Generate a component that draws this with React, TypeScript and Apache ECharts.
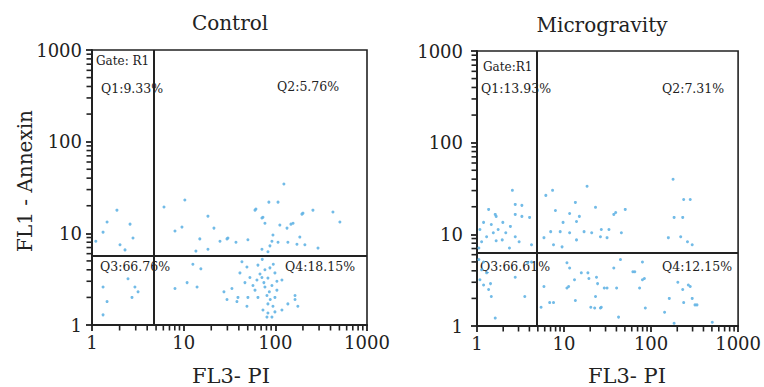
import React, { useEffect, useRef } from "react";
import * as echarts from "echarts";

const PANEL_TITLES = ["Control", "Microgravity"];
const X_NAME = "FL3- PI";
const Y_NAME = "FL1 - Annexin";
const MINOR_TICKS = [2, 3, 4, 5, 6, 7, 8, 9, 20, 30, 40, 50, 60, 70, 80, 90, 200, 300, 400, 500, 600, 700, 800, 900];
const GATE_LABELS = ["Gate: R1", "Gate:R1"];
const CONTROL_QUADS = ["Q1:9.33%", "Q2:5.76%", "Q3:66.76%", "Q4:18.15%"];
const MICRO_QUADS = ["Q1:13.93%", "Q2:7.31%", "Q3:66.61%", "Q4:12.15%"];
// gate positions [FL3 - PI, FL1 - Annexin]
const CONTROL_GATE = [4.75, 5.7];
const MICRO_GATE = [4.9, 6.3];

// [FL3 - PI, FL1 - Annexin]
const CONTROL_POINTS = [
  [1.87, 17.9], [1.46, 13.3], [2.6, 12.6], [2.8, 8.9], [1.32, 10.3], [1.1, 8.2], [2.02, 7.5], [2.29, 6.6],
  [2.47, 3.2], [1.32, 2.6], [2.94, 2.6], [3.18, 2.3], [1.46, 1.8], [2.73, 2.0], [1.32, 1.29],
  [6.1, 19.4], [10.3, 23.1], [8.04, 10.6], [9.58, 11.7], [18.4, 15.4], [21.4, 11.4], [15, 8.7], [24.9, 8.2],
  [29.7, 8.7], [37.2, 8.0], [50.2, 8.5], [18.4, 6.7], [13.6, 6.4], [61.4, 18.4], [73.3, 15], [85, 21.9],
  [107, 21.9], [60, 17.9], [200, 16.6], [257, 17.9], [425, 17.1], [506, 13.3], [71.4, 14.7], [77, 12.9],
  [112, 12.3], [134, 11.4], [156, 12.9], [124, 34.5], [30.4, 8.9], [94.2, 9.6], [91.8, 8.2], [107, 8.0],
  [137, 8.0], [172, 7.6], [210, 7.5], [87.3, 7.3], [71.4, 6.7], [292, 6.9], [83, 6.3], [185, 9.1],
  [148, 12.6], [195, 16.2],
  [12.6, 4.6], [15.4, 4.1], [10.9, 2.9], [8.04, 2.5], [14, 2.6], [27.5, 2.3], [43.2, 4.9], [49, 4.3],
  [64.6, 4.5], [77, 4.0], [87.3, 4.2], [41.1, 3.7], [52.8, 3.3], [63, 3.1], [71.4, 3.3], [83, 3.25],
  [99, 3.7], [118, 3.1], [46.6, 2.9], [57, 2.7], [77, 2.6], [91.8, 2.7], [104, 2.4], [33.6, 2.5],
  [39.1, 2.0], [50.2, 2.0], [64.6, 2.0], [81, 2.1], [99, 2.0], [164, 2.1], [164, 1.9], [29.7, 1.9],
  [137, 1.7], [176, 1.6], [83, 1.7], [94.2, 1.6], [73.3, 1.46], [83, 1.35], [99, 1.39], [81, 1.22],
  [91.8, 1.22], [118, 1.46], [49, 1.6], [38.1, 1.8],
  [68, 3.6], [75, 2.9], [86, 2.3], [60, 2.4], [95, 4.6], [72, 5.2], [88, 1.9], [104, 3.0],
];

const MICRO_POINTS = [
  [2.55, 30.2], [2.75, 21.2], [3.28, 20.7], [1.36, 18.7], [1.62, 16.5], [2.75, 16.5], [3.28, 15.7], [4.02, 15.3],
  [1.19, 13.5], [1.46, 12.8], [1.98, 13.5], [2.42, 12.2], [1.75, 11.3], [1.54, 10.4], [2.14, 10.4], [2.75, 9.4],
  [3.05, 8.3], [1.66, 8.5], [1.13, 8.3], [4.23, 7.7], [2.36, 7.1], [1.05, 7.1], [1.66, 15.7], [1.08, 11.3],
  [1.29, 9.4], [1.95, 8.7],
  [7.38, 30.2], [18.4, 33.4], [6.18, 26.6], [13.5, 22.3], [23, 19.7], [7.96, 18.2], [11.6, 16.9], [15, 15.7],
  [13.9, 13.8], [9.75, 13.5], [7.02, 10.7], [9.04, 10.7], [11.6, 10.4], [17, 10.7], [20.8, 10.4], [26.2, 9.4],
  [13.9, 8.7], [5.88, 9.2], [7.57, 7.7], [9.5, 7.3], [37.3, 16.5], [45.6, 10.4], [31.2, 9.2], [26.8, 11.3],
  [179, 39.9], [237, 24], [282, 24], [184, 15.3], [231, 15.3], [50.5, 18.7], [39.2, 17.3], [32.8, 11.3],
  [158, 9.2], [219, 9.4], [262, 8.3], [297, 7.7],
  [1.13, 4.1], [1.29, 3.8], [1.19, 2.8], [1.43, 2.9], [2.75, 3.4], [1.46, 2.1], [3.54, 2.1], [1.62, 1.22],
  [1.05, 5.3], [1.19, 5.0], [1.08, 3.2], [1.36, 2.5], [4.23, 5.0], [3.82, 4.9],
  [10.8, 4.9], [11.6, 4.3], [15.8, 3.8], [19.3, 3.3], [23.6, 3.4], [13.2, 3.2], [10.8, 2.6], [23, 2.1],
  [5.45, 1.6], [7.57, 1.8], [20.3, 1.6], [26.2, 1.57], [44.5, 5.3], [37.3, 4.3], [61.8, 3.9], [79.6, 3.2],
  [73.8, 2.6], [85.9, 1.57], [143, 1.41], [162, 2.0], [231, 2.5], [282, 2.7], [237, 1.8], [320, 1.7],
  [24.3, 2.9], [29, 2.6], [22.5, 1.57], [26.8, 1.6], [42.3, 1.25], [13.5, 1.9], [11.3, 2.7], [18.8, 3.8],
  [184, 1.07], [505, 1.1], [5.88, 2.7], [6.84, 1.8], [79.6, 5.0], [65, 3.9], [83.8, 3.3], [31.2, 2.6],
  [40.2, 2.6], [203, 3.0], [268, 2.8], [337, 1.7], [297, 2.0],
];

const FONT = '"DejaVu Serif", "Liberation Serif", serif';
const INK = "#222";

function makeAxis(gridIndex: number, isY: boolean) {
  return {
    type: "log",
    logBase: 10,
    min: 1,
    max: 1000,
    gridIndex,
    axisLine: { show: true, onZero: false, lineStyle: { color: INK, width: 2 } },
    axisTick: { show: true, length: 6, lineStyle: { color: INK, width: 1.8 } },
    axisLabel: {
      fontFamily: FONT,
      fontSize: 18,
      color: INK,
      margin: isY ? (gridIndex === 0 ? 10 : 14) : 8,
      formatter: (v: number) => String(Math.round(v)),
    },
    splitLine: { show: false },
  };
}

function minorTickSeries(idx: number, isY: boolean) {
  return {
    type: "scatter",
    xAxisIndex: idx,
    yAxisIndex: idx,
    silent: true,
    clip: false,
    z: 5,
    symbol: "rect",
    symbolSize: isY ? [5, 1.6] : [1.6, 5],
    symbolOffset: isY ? [-3, 0] : [0, 3],
    itemStyle: { color: INK, opacity: 1 },
    data: MINOR_TICKS.map((v) => (isY ? [1, v] : [v, 1])),
  };
}

function scatterSeries(idx: number, points: number[][], gate: number[]) {
  return {
    type: "scatter",
    xAxisIndex: idx,
    yAxisIndex: idx,
    data: points,
    symbolSize: 3,
    itemStyle: { color: "#63b4e4", opacity: 0.9 },
    markLine: {
      silent: true,
      symbol: ["none", "none"],
      label: { show: false },
      lineStyle: { color: INK, width: 2, type: "solid" },
      data: [{ xAxis: gate[0] }, { yAxis: gate[1] }],
    },
  };
}

function txt(text: string, x: number, y: number, size: number, align = "left", extra: any = {}) {
  return {
    type: "text",
    x,
    y,
    silent: true,
    ...extra,
    style: { text, fill: INK, font: `${size}px ${FONT}`, align, verticalAlign: "middle" },
  };
}

export default function App() {
  const ref = useRef<HTMLDivElement>(null);

  useEffect(() => {
    document.body.style.margin = "0";
    if (!ref.current) return;
    const chart = echarts.init(ref.current, undefined, { renderer: "svg" });
    chart.setOption({
      animation: false,
      backgroundColor: "#ffffff",
      grid: [
        { left: 92, top: 50, width: 275, height: 275, show: true, borderColor: INK, borderWidth: 1.6, backgroundColor: "transparent" },
        { left: 477, top: 51, width: 273, height: 275, show: true, borderColor: INK, borderWidth: 1.6, backgroundColor: "transparent" },
      ],
      xAxis: [makeAxis(0, false), makeAxis(1, false)],
      yAxis: [makeAxis(0, true), makeAxis(1, true)],
      series: [
        scatterSeries(0, CONTROL_POINTS, CONTROL_GATE),
        scatterSeries(1, MICRO_POINTS, MICRO_GATE),
        minorTickSeries(0, false),
        minorTickSeries(0, true),
        minorTickSeries(1, false),
        minorTickSeries(1, true),
      ],
      graphic: [
        txt(PANEL_TITLES[0], 230, 23, 20, "center"),
        txt(PANEL_TITLES[1], 602, 25, 20, "center"),
        txt(X_NAME, 231, 376, 21, "center"),
        txt(X_NAME, 627, 376, 21, "center"),
        txt(Y_NAME, 25, 181, 20, "center", { rotation: Math.PI / 2 }),
        txt(GATE_LABELS[0], 96, 61, 12),
        txt(CONTROL_QUADS[0], 101, 88, 12.5),
        txt(CONTROL_QUADS[1], 277, 86, 12.5),
        txt(CONTROL_QUADS[2], 100, 266, 12.5),
        txt(CONTROL_QUADS[3], 285, 266, 12.5),
        txt(GATE_LABELS[1], 483, 67, 12),
        txt(MICRO_QUADS[0], 481, 88, 12.5),
        txt(MICRO_QUADS[1], 662, 88, 12.5),
        txt(MICRO_QUADS[2], 480, 266, 12.5),
        txt(MICRO_QUADS[3], 662, 266, 12.5),
      ],
    });
    return () => chart.dispose();
  }, []);

  return <div ref={ref} style={{ width: 764, height: 387 }} />;
}
